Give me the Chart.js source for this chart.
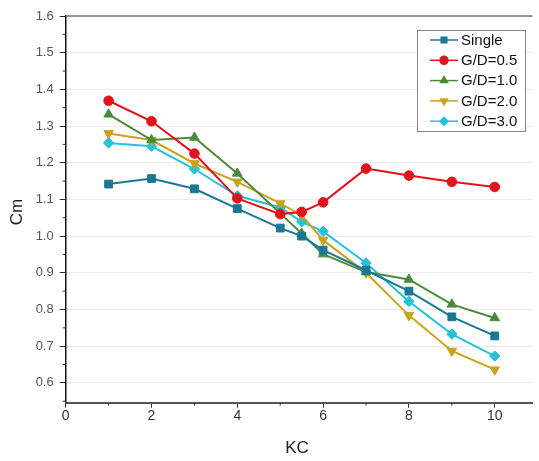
<!DOCTYPE html>
<html>
<head>
<meta charset="utf-8">
<script src="https://cdn.jsdelivr.net/npm/chart.js@4/dist/chart.umd.min.js"></script>
<style>
html,body{margin:0;padding:0;background:#fff;overflow:hidden;}
#wrap{width:539px;height:461px;position:relative;}
</style>
</head>
<body>
<div id="wrap"><canvas id="c" width="539" height="461"></canvas></div>
<script>
const kc = [1, 2, 3, 4, 5, 5.5, 6, 7, 8, 9, 10];
const seriesNames = ['Single', 'G/D=0.5', 'G/D=1.0', 'G/D=2.0', 'G/D=3.0'];
const single = [1.142, 1.157, 1.129, 1.075, 1.022, 1.000, 0.962, 0.907, 0.850, 0.780, 0.728];
const gd05   = [1.369, 1.313, 1.225, 1.103, 1.060, 1.066, 1.092, 1.184, 1.165, 1.148, 1.134];
const gd10   = [1.332, 1.262, 1.269, 1.171, 1.062, 1.007, 0.951, 0.902, 0.882, 0.814, 0.777];
const gd20   = [1.280, 1.262, 1.198, 1.148, 1.089, 1.057, 0.989, 0.900, 0.784, 0.687, 0.636];
const gd30   = [1.254, 1.245, 1.183, 1.110, 1.078, 1.039, 1.013, 0.927, 0.822, 0.733, 0.673];
const xTicks = [0, 2, 4, 6, 8, 10];
const yTicks = [0.6, 0.7, 0.8, 0.9, 1.0, 1.1, 1.2, 1.3, 1.4, 1.5, 1.6];

const colors = ['#1b7895', '#e3131b', '#4a8a3a', '#c9a31c', '#27c2da'];
const styles = ['rect', 'circle', 'triangle', 'triangle', 'rectRot'];
const rotations = [0, 0, 0, 180, 0];
const radii = [5.5, 4.8, 5.5, 5.5, 5.2];
const allData = [single, gd05, gd10, gd20, gd30];

const datasets = allData.map((arr, i) => ({
  label: seriesNames[i],
  data: kc.map((x, j) => ({x: x, y: arr[j]})),
  borderColor: colors[i],
  backgroundColor: colors[i],
  borderWidth: 2,
  pointStyle: styles[i],
  rotation: rotations[i],
  pointRadius: radii[i],
  pointBorderWidth: 1,
  pointBackgroundColor: colors[i],
  pointBorderColor: colors[i],
  tension: 0
}));

const font = "'Liberation Sans', Arial, sans-serif";

const extras = {
  id: 'extras',
  afterDraw(chart) {
    const ctx = chart.ctx;
    const xs = chart.scales.x, ys = chart.scales.y;
    const ca = chart.chartArea;
    ctx.save();
    ctx.strokeStyle = '#777';
    ctx.lineWidth = 1.5;
    ctx.beginPath();
    ctx.moveTo(ca.left, ca.top);
    ctx.lineTo(ca.right, ca.top);
    ctx.stroke();
    ctx.strokeStyle = '#333';
    ctx.lineWidth = 1;
    for (let v = 1; v <= 9; v += 2) {
      const px = xs.getPixelForValue(v);
      ctx.beginPath(); ctx.moveTo(px, ca.bottom); ctx.lineTo(px, ca.bottom + 3); ctx.stroke();
    }
    for (let k = -1; k < 10; k++) {
      const v = 0.65 + k * 0.1;
      const py = ys.getPixelForValue(v);
      if (py > ca.bottom) continue;
      ctx.beginPath(); ctx.moveTo(ca.left, py); ctx.lineTo(ca.left - 3, py); ctx.stroke();
    }
    ctx.fillStyle = '#222';
    ctx.font = '17px ' + font;
    ctx.textAlign = 'center';
    ctx.textBaseline = 'middle';
    ctx.fillText('KC', 297, 448);
    ctx.save();
    ctx.translate(17, 212);
    ctx.rotate(-Math.PI / 2);
    ctx.fillText('Cm', 0, 0);
    ctx.restore();
    const lx = 417, ly = 30, lw = 108, lh = 101;
    ctx.fillStyle = '#fff';
    ctx.fillRect(lx, ly, lw, lh);
    ctx.strokeStyle = '#888';
    ctx.lineWidth = 1;
    ctx.strokeRect(lx + 0.5, ly + 0.5, lw, lh);
    ctx.font = '15px ' + font;
    ctx.textAlign = 'left';
    ctx.textBaseline = 'middle';
    seriesNames.forEach((name, i) => {
      const y = 40 + i * 20.3;
      ctx.strokeStyle = colors[i];
      ctx.lineWidth = 1.5;
      ctx.beginPath(); ctx.moveTo(430, y); ctx.lineTo(458, y); ctx.stroke();
      ctx.fillStyle = colors[i];
      Chart.helpers.drawPoint(ctx, {pointStyle: styles[i], rotation: rotations[i], radius: 4, borderWidth: 1}, 444, y);
      ctx.fill();
      ctx.fillStyle = '#111';
      ctx.fillText(name, 461, y + 0.5);
    });
    ctx.restore();
  }
};

new Chart(document.getElementById('c'), {
  type: 'line',
  data: { datasets: datasets },
  plugins: [extras],
  options: {
    responsive: false,
    animation: false,
    layout: { padding: { top: 16, right: 0, left: 0, bottom: 0 } },
    plugins: { legend: { display: false }, tooltip: { enabled: false } },
    scales: {
      x: {
        type: 'linear',
        min: 0,
        max: 10.88,
        afterBuildTicks: (s) => { s.ticks = xTicks.map(v => ({value: v})); },
        afterFit: (s) => { s.height = 58.3; },
        grid: { display: true, drawOnChartArea: false, drawTicks: true, tickLength: 5, tickColor: '#333' },
        border: { display: true, color: '#555', width: 2 },
        ticks: { color: '#333', font: { family: font, size: 14 }, padding: 0, maxRotation: 0 }
      },
      y: {
        type: 'linear',
        min: 0.546,
        max: 1.6,
        afterBuildTicks: (s) => { s.ticks = yTicks.map(v => ({value: v})); },
        afterFit: (s) => { s.width = 65.7; },
        grid: { color: '#ebebeb', lineWidth: 1, tickLength: 6, tickColor: '#333' },
        border: { display: true, color: '#111', width: 1.5 },
        ticks: { color: '#555', font: { family: font, size: 13 }, padding: 6,
          callback: (v) => Number(v).toFixed(1) }
      }
    }
  }
});
</script>
</body>
</html>
